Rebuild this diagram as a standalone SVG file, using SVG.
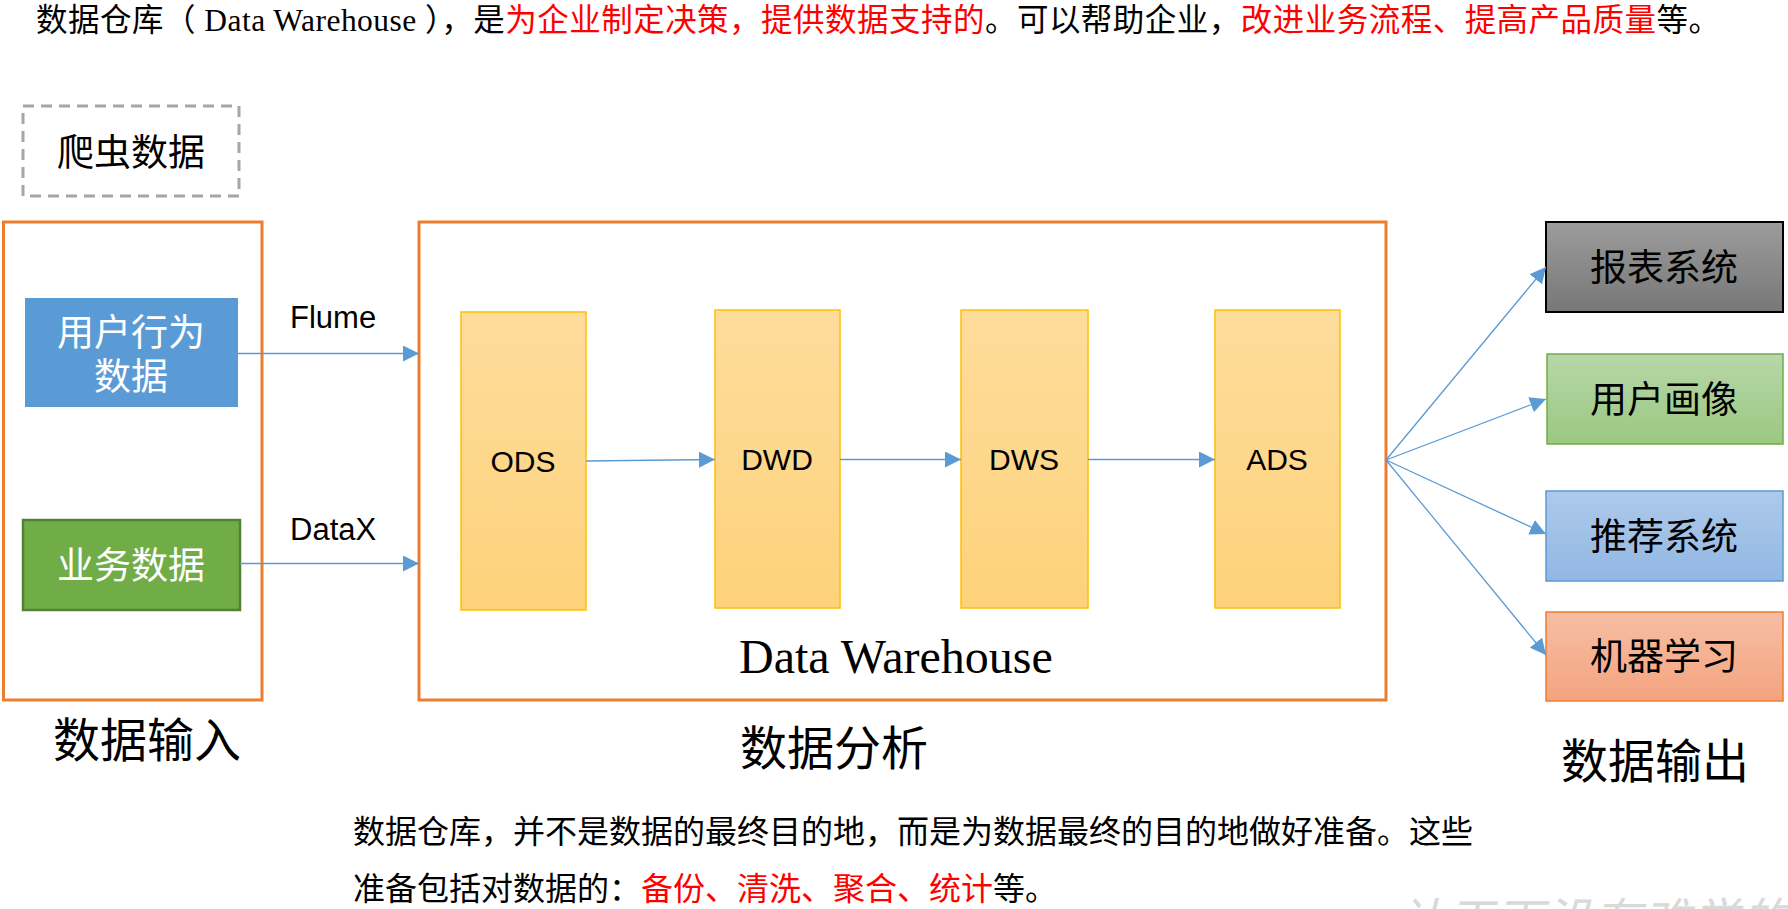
<svg xmlns="http://www.w3.org/2000/svg" width="1788" height="909" viewBox="0 0 1788 909">
  <style>
    .cjk { font-family: "Noto Sans CJK SC", "Noto Sans", sans-serif; }
    .serif { font-family: "Liberation Serif", "Noto Sans CJK SC", serif; }
    .sans { font-family: "Liberation Sans", Arial, sans-serif; }
    .red { fill: #FF0000; }
    .conn { stroke: #5B9BD5; stroke-width: 1.3; fill: none; marker-end: url(#arrow); }
    .layer { stroke: #FFC000; stroke-width: 1.5; fill: url(#gLayer); }
    .frame { fill: none; stroke: #ED7D31; stroke-width: 3; }
    .lbl { font-size: 37px; text-anchor: middle; }
    .layerTxt { font-size: 30px; text-anchor: middle; fill: #000; }
    .section { font-size: 47px; text-anchor: middle; fill: #000; }
  </style>
  <defs>
    <marker id="arrow" markerUnits="userSpaceOnUse" markerWidth="16" markerHeight="16" viewBox="0 0 15 15" refX="15" refY="7.5" orient="auto">
      <path d="M0,0 L15,7.5 L0,15 z" fill="#5B9BD5"/>
    </marker>
    <linearGradient id="gLayer" x1="0" y1="0" x2="0" y2="1">
      <stop offset="0" stop-color="#FEDC9C"/>
      <stop offset="1" stop-color="#FDD27A"/>
    </linearGradient>
    <linearGradient id="gGray" x1="0" y1="0" x2="0" y2="1">
      <stop offset="0" stop-color="#9C9C9C"/>
      <stop offset="1" stop-color="#777777"/>
    </linearGradient>
    <linearGradient id="gGreen" x1="0" y1="0" x2="0" y2="1">
      <stop offset="0" stop-color="#B7D7A8"/>
      <stop offset="1" stop-color="#9CC782"/>
    </linearGradient>
    <linearGradient id="gBlue" x1="0" y1="0" x2="0" y2="1">
      <stop offset="0" stop-color="#AEC9EA"/>
      <stop offset="1" stop-color="#91B8E3"/>
    </linearGradient>
    <linearGradient id="gOrange" x1="0" y1="0" x2="0" y2="1">
      <stop offset="0" stop-color="#F6BEA4"/>
      <stop offset="1" stop-color="#F4A47F"/>
    </linearGradient>
  </defs>

  <rect width="1788" height="909" fill="#FFFFFF"/>

  <!-- title -->
  <g id="title">
    <text class="serif" x="36" y="31" font-size="31.5" fill="#000" textLength="1684" lengthAdjust="spacing">数据仓库（ Data Warehouse ），是<tspan class="red">为企业制定决策，提供数据支持的</tspan>。可以帮助企业，<tspan class="red">改进业务流程、提高产品质量</tspan>等。</text>
  </g>

  <!-- crawler data -->
  <g id="crawler">
    <rect x="23" y="106" width="216" height="90" fill="none" stroke="#A6A6A6" stroke-width="3" stroke-dasharray="11,7"/>
    <text class="cjk lbl" x="131" y="166" fill="#000">爬虫数据</text>
  </g>

  <!-- input frame -->
  <g id="input">
    <rect class="frame" x="3.5" y="222" width="258.5" height="478"/>
    <text class="cjk section" x="147" y="757">数据输入</text>
  </g>

  <g id="userBehavior">
    <rect x="25" y="298" width="213" height="109" fill="#5B9BD5"/>
    <text class="cjk lbl" x="131" fill="#FFFFFF"><tspan x="131" y="345.5">用户行为</tspan><tspan x="131" y="390">数据</tspan></text>
  </g>

  <g id="businessData">
    <rect x="23" y="520" width="217" height="90" fill="#70AD47" stroke="#548235" stroke-width="2.5"/>
    <text class="cjk lbl" x="131" y="578.5" fill="#FFFFFF">业务数据</text>
  </g>

  <!-- warehouse frame -->
  <g id="warehouse">
    <rect class="frame" x="419" y="222" width="967" height="478"/>
    <text class="serif" x="739" y="673" font-size="48" fill="#000">Data Warehouse</text>
    <text class="cjk section" x="834" y="765">数据分析</text>
  </g>

  <g id="ODS">
    <rect class="layer" x="461" y="312" width="125" height="298"/>
    <text class="sans layerTxt" x="523" y="472">ODS</text>
  </g>
  <g id="DWD">
    <rect class="layer" x="715" y="310" width="125" height="298"/>
    <text class="sans layerTxt" x="777" y="470">DWD</text>
  </g>
  <g id="DWS">
    <rect class="layer" x="961" y="310" width="127" height="298"/>
    <text class="sans layerTxt" x="1024" y="470">DWS</text>
  </g>
  <g id="ADS">
    <rect class="layer" x="1215" y="310" width="125" height="298"/>
    <text class="sans layerTxt" x="1277" y="470">ADS</text>
  </g>

  <!-- outputs -->
  <g id="report">
    <rect x="1546" y="222" width="237" height="90" fill="url(#gGray)" stroke="#000" stroke-width="2"/>
    <text class="cjk lbl" x="1664" y="281" fill="#000">报表系统</text>
  </g>
  <g id="profile">
    <rect x="1547" y="354" width="236" height="90" fill="url(#gGreen)" stroke="#70AD47" stroke-width="1.5"/>
    <text class="cjk lbl" x="1664" y="413" fill="#000">用户画像</text>
  </g>
  <g id="recommend">
    <rect x="1546" y="491" width="237" height="90" fill="url(#gBlue)" stroke="#5B9BD5" stroke-width="1.5"/>
    <text class="cjk lbl" x="1664" y="550" fill="#000">推荐系统</text>
  </g>
  <g id="ml">
    <rect x="1546" y="612" width="237" height="89" fill="url(#gOrange)" stroke="#ED7D31" stroke-width="1.5"/>
    <text class="cjk lbl" x="1664" y="670" fill="#000">机器学习</text>
  </g>
  <g id="outputLabel">
    <text class="cjk section" x="1655" y="777.5">数据输出</text>
  </g>

  <!-- connectors -->
  <g id="connectors">
    <line class="conn" x1="238" y1="353.5" x2="419" y2="353.5"/>
    <line class="conn" x1="240" y1="563.5" x2="419" y2="563.5"/>
    <line class="conn" x1="586" y1="461" x2="715" y2="459.5"/>
    <line class="conn" x1="840" y1="459.5" x2="961" y2="459.5"/>
    <line class="conn" x1="1088" y1="459.5" x2="1215" y2="459.5"/>
    <line class="conn" x1="1386" y1="460" x2="1546" y2="267"/>
    <line class="conn" x1="1386" y1="460" x2="1546" y2="399"/>
    <line class="conn" x1="1386" y1="460" x2="1546" y2="534"/>
    <line class="conn" x1="1386" y1="460" x2="1546" y2="655"/>
    <text class="sans" x="290" y="328" font-size="31" fill="#000">Flume</text>
    <text class="sans" x="290" y="540" font-size="31" fill="#000">DataX</text>
  </g>

  <!-- bottom paragraph -->
  <g id="note">
    <text class="serif" x="353" y="843" font-size="32" fill="#000" textLength="1120" lengthAdjust="spacing">数据仓库，并不是数据的最终目的地，而是为数据最终的目的地做好准备。这些</text>
    <text class="serif" x="353" y="900" font-size="32" fill="#000">准备包括对数据的：<tspan class="red">备份、清洗、聚合、统计</tspan>等。</text>
  </g>

  <!-- watermark -->
  <g id="watermark">
    <text class="cjk" x="1397" y="938" font-size="48" font-style="italic" fill="#D9D9D9" letter-spacing="1">让天下没有难学的技术</text>
  </g>
</svg>
